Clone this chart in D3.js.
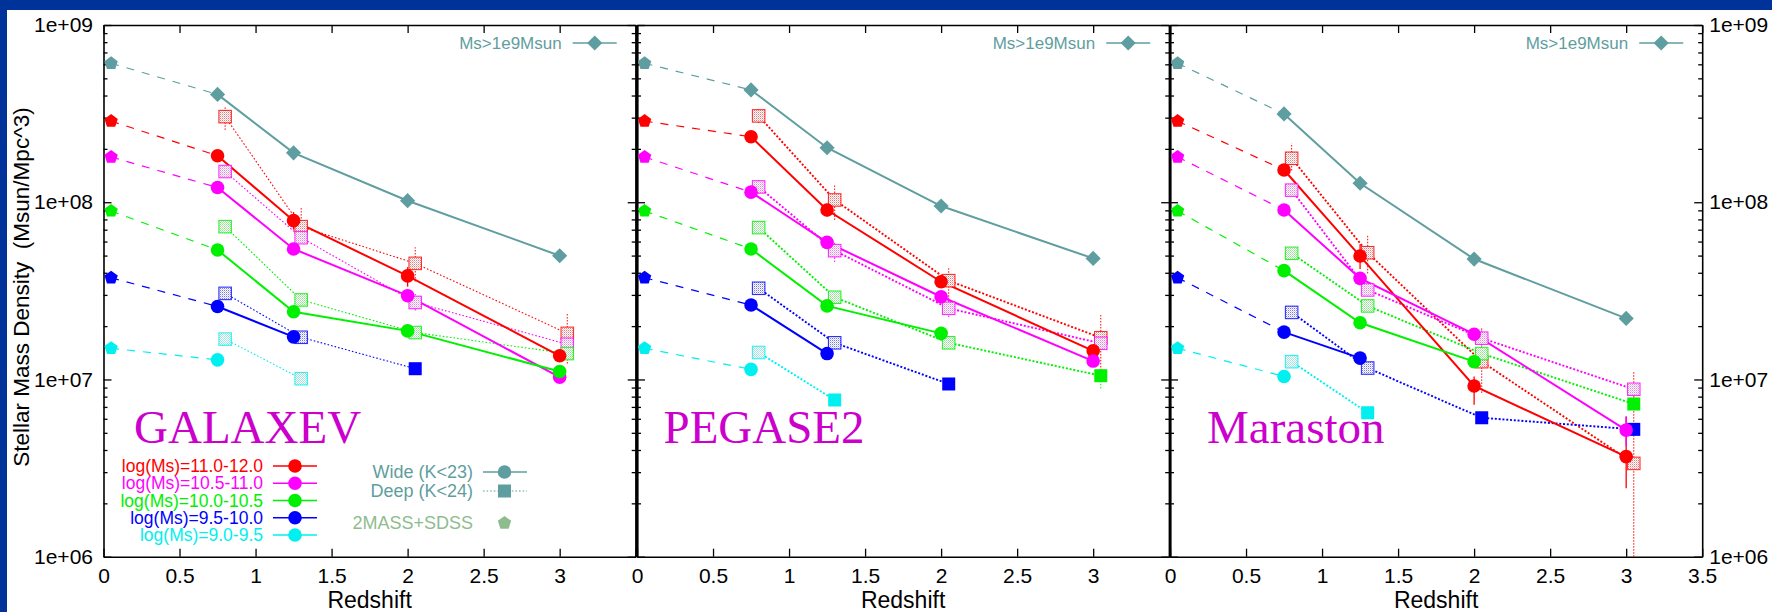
<!DOCTYPE html>
<html>
<head>
<meta charset="utf-8">
<script src="https://cdn.jsdelivr.net/npm/d3@7"></script>
<style>
  html, body { margin: 0; padding: 0; background: #fff; }
  svg { display: block; font-family: "Liberation Sans", Arial, Helvetica, sans-serif; }
  text.model-name { font-family: "Liberation Serif", "Times New Roman", serif; }
</style>
</head>
<body>
<svg id="chart" width="1772" height="612"></svg>
<script>
// ---------------- data ----------------
const modelNames = ["GALAXEV", "PEGASE2", "Maraston"];
const massBinLabels = ["log(Ms)=11.0-12.0", "log(Ms)=10.5-11.0", "log(Ms)=10.0-10.5", "log(Ms)=9.5-10.0", "log(Ms)=9.0-9.5"];
const zLocal = 0.05;
const zWide = [0.75, 1.25, 2, 3];
const zDeep = [0.8, 1.3, 2.05, 3.05];
const xTickValues = [0, 0.5, 1, 1.5, 2, 2.5, 3, 3.5];
const yMajorTicks = [1e6, 1e7, 1e8, 1e9];

// local (2MASS+SDSS) stellar mass density per mass bin, and for Ms > 1e9
const localBins = [2.87e8, 1.80e8, 8.93e7, 3.75e7, 1.50e7];
const localTotal = 6.08e8;

// GALAXEV
const galaxevTotal = [4.06e8, 1.90e8, 1.02e8, 4.99e7];
const galaxevWide = [
  [1.83e8, 7.87e7, 3.84e7, 1.36e7],
  [1.21e8, 5.45e7, 2.97e7, 1.03e7],
  [5.38e7, 2.41e7, 1.88e7, 1.11e7],
  [2.58e7, 1.74e7, null, null],
  [1.29e7, null, null, null]
];
const galaxevDeep = [
  [3.04e8, 7.28e7, 4.52e7, 1.82e7],
  [1.49e8, 6.31e7, 2.72e7, 1.58e7],
  [7.28e7, 2.81e7, 1.84e7, 1.40e7],
  [3.06e7, 1.73e7, 1.15e7, null],
  [1.69e7, 1.01e7, null, null]
];
const galaxevDeepSolid = [[3, 2]];
const galaxevWideErr = [[0, 0, 1.70e8, 1.97e8], [0, 1, 7.0e7, 8.8e7], [0, 2, 3.34e7, 4.3e7]];
const galaxevDeepErr = [[0, 0, 2.56e8, 3.46e8], [0, 1, 6.40e7, 9.35e7], [0, 2, 3.57e7, 5.57e7], [0, 3, 1.23e7, 2.36e7], [1, 2, 2.45e7, 3.05e7]];

// PEGASE2
const pegase2Total = [4.30e8, 2.03e8, 9.52e7, 4.82e7];
const pegase2Wide = [
  [2.34e8, 9.04e7, 3.56e7, 1.45e7],
  [1.14e8, 5.94e7, 2.93e7, 1.27e7],
  [5.45e7, 2.60e7, 1.82e7, null],
  [2.63e7, 1.40e7, null, null],
  [1.14e7, null, null, null]
];
const pegase2Deep = [
  [3.07e8, 1.03e8, 3.61e7, 1.72e7],
  [1.22e8, 5.33e7, 2.52e7, 1.60e7],
  [7.19e7, 2.91e7, 1.61e7, 1.05e7],
  [3.27e7, 1.61e7, 9.43e6, null],
  [1.42e7, 7.66e6, null, null]
];
const pegase2DeepSolid = [[4, 1], [3, 2], [2, 3]];
const pegase2WideErr = [[0, 1, 8.3e7, 9.8e7]];
const pegase2DeepErr = [[0, 0, 2.8e8, 3.4e8], [0, 1, 7.94e7, 1.25e8], [0, 2, 2.93e7, 4.33e7], [0, 3, 1.04e7, 2.31e7],
  [1, 0, 1.12e8, 1.36e8], [1, 1, 4.6e7, 5.9e7], [1, 2, 2.25e7, 2.93e7], [2, 3, 8.9e6, 1.17e7]];

// Maraston
const marastonTotal = [3.15e8, 1.28e8, 4.78e7, 2.21e7];
const marastonWide = [
  [1.52e8, 4.97e7, 9.19e6, 3.67e6],
  [9.04e7, 3.72e7, 1.80e7, 5.18e6],
  [4.11e7, 2.09e7, 1.26e7, null],
  [1.85e7, 1.32e7, null, null],
  [1.04e7, null, null, null]
];
const marastonDeep = [
  [1.77e8, 5.19e7, 1.26e7, 3.36e6],
  [1.17e8, 3.20e7, 1.71e7, 8.80e6],
  [5.15e7, 2.60e7, 1.40e7, 7.27e6],
  [2.39e7, 1.16e7, 6.08e6, 5.23e6],
  [1.26e7, 6.49e6, null, null]
];
const marastonDeepSolid = [[4, 1], [3, 2], [3, 3], [2, 3]];
const marastonWideErr = [[0, 1, 4.2e7, 5.8e7], [0, 2, 7.2e6, 1.04e7], [0, 3, 2.43e6, 6.17e6], [1, 3, 4.2e6, 6.2e6]];
const marastonDeepErr = [[0, 0, 1.51e8, 2.15e8], [0, 1, 3.97e7, 6.5e7], [0, 2, 8.4e6, 1.95e7], [0, 3, 1e6, 1.11e7],
  [1, 2, 1.55e7, 1.9e7], [2, 3, 6.7e6, 7.9e6]];

// ---------------- styling ----------------
const binColors = ["#ff0000", "#ff00ff", "#00f000", "#0000ff", "#00f0f0"];
const totalColor = "#5f9ea0";
const localLegendColor = "#8fbc8f";
const nameColor = "#cc00cc";

const panels = [
  { name: modelNames[0], total: galaxevTotal, wide: galaxevWide, deep: galaxevDeep, solid: galaxevDeepSolid, wideErr: galaxevWideErr, deepErr: galaxevDeepErr },
  { name: modelNames[1], total: pegase2Total, wide: pegase2Wide, deep: pegase2Deep, solid: pegase2DeepSolid, wideErr: pegase2WideErr, deepErr: pegase2DeepErr },
  { name: modelNames[2], total: marastonTotal, wide: marastonWide, deep: marastonDeep, solid: marastonDeepSolid, wideErr: marastonWideErr, deepErr: marastonDeepErr }
];

const panelLeft = [103.5, 637, 1170];
const panelWidth = 532.2;
const nameOffset = [30.5, 26.5, 37];
const plotTop = 25, plotBottom = 556.7;

const svg = d3.select("#chart");

// slide frame
svg.append("rect").attr("width", 1772).attr("height", 612).attr("fill", "#003399");
svg.append("rect").attr("x", 7).attr("y", 10).attr("width", 1765).attr("height", 602).attr("fill", "#ffffff");

const defs = svg.append("defs");
binColors.forEach((c, i) => {
  const p = defs.append("pattern").attr("id", "dots" + i)
    .attr("patternUnits", "userSpaceOnUse").attr("width", 2).attr("height", 2);
  p.append("rect").attr("width", 2).attr("height", 2).attr("fill", "#ffffff");
  p.append("rect").attr("x", 0).attr("y", 0).attr("width", 1).attr("height", 1).attr("fill", c).attr("opacity", 0.55);
  p.append("rect").attr("x", 1).attr("y", 1).attr("width", 1).attr("height", 1).attr("fill", "#777").attr("opacity", 0.35);
});

const y = d3.scaleLog().domain([1e6, 1e9]).range([plotBottom, plotTop]);
const yMinorTicks = [];
[1e6, 1e7, 1e8].forEach(d => { for (let k = 2; k <= 9; k++) yMinorTicks.push(d * k); });

const expFormat = d => "1e+" + String(Math.round(Math.log10(d))).padStart(2, "0");
const zFormat = d3.format("~g");

function pentagon(r) {
  const pts = d3.range(5).map(k => {
    const a = -Math.PI / 2 + k * 2 * Math.PI / 5;
    return [r * Math.cos(a), r * Math.sin(a)];
  });
  return "M" + pts.map(p => p.join(",")).join("L") + "Z";
}
function diamond(h) { return `M0,${-h}L${h},0L0,${h}L${-h},0Z`; }

panels.forEach((P, pi) => {
  const L = panelLeft[pi], R = L + panelWidth;
  const x = d3.scaleLinear().domain([0, 3.5]).range([L, R]);
  const g = svg.append("g");
  const lastPanel = pi === panels.length - 1;
  const deepWidth = pi === 0 ? 1.1 : 1.9;
  const deepDash = pi === 0 ? "1.6,2" : "2,1.8";

  // ---- axes ----
  const styleAxis = (sel, w) => {
    sel.attr("font-family", null);
    sel.select(".domain").attr("stroke", "#000").attr("stroke-width", w);
    sel.selectAll(".tick line").attr("stroke", "#000").attr("stroke-width", 1.3);
    sel.selectAll("text").attr("font-size", 21).attr("fill", "#000");
  };
  g.append("g").attr("transform", `translate(0,${plotBottom})`)
    .call(d3.axisBottom(x).tickValues(xTickValues).tickSize(-8).tickSizeOuter(0).tickPadding(11)
      .tickFormat(d => (!lastPanel && d === 3.5) ? "" : zFormat(d)))
    .call(s => styleAxis(s, 1.6));
  g.append("g").attr("transform", `translate(0,${plotTop})`)
    .call(d3.axisTop(x).tickValues(xTickValues).tickSize(-8).tickSizeOuter(0).tickFormat(""))
    .call(s => styleAxis(s, 1.6));
  g.append("g").attr("transform", `translate(${L},0)`)
    .call(d3.axisLeft(y).tickValues(yMajorTicks).tickSize(-8).tickSizeOuter(0).tickPadding(10.5)
      .tickFormat(pi === 0 ? expFormat : ""))
    .call(s => styleAxis(s, pi === 0 ? 1.6 : 2.2));
  g.append("g").attr("transform", `translate(${L},0)`)
    .call(d3.axisLeft(y).tickValues(yMinorTicks).tickSize(-4).tickSizeOuter(0).tickFormat(""))
    .call(s => { styleAxis(s, 0); s.select(".domain").remove(); });
  g.append("g").attr("transform", `translate(${R},0)`)
    .call(d3.axisRight(y).tickValues(yMajorTicks).tickSize(-8).tickSizeOuter(0).tickPadding(7)
      .tickFormat(lastPanel ? expFormat : ""))
    .call(s => styleAxis(s, lastPanel ? 1.6 : 2.2));
  g.append("g").attr("transform", `translate(${R},0)`)
    .call(d3.axisRight(y).tickValues(yMinorTicks).tickSize(-4).tickSizeOuter(0).tickFormat(""))
    .call(s => { styleAxis(s, 0); s.select(".domain").remove(); });

  // x axis title
  g.append("text").attr("x", (L + R) / 2).attr("y", 608).attr("text-anchor", "middle")
    .attr("font-size", 23).attr("fill", "#000").text("Redshift");

  // model name
  g.append("text").attr("class", "model-name").attr("x", L + nameOffset[pi]).attr("y", 443)
    .attr("font-size", 47).attr("fill", nameColor).text(P.name);

  const lineGen = d3.line().defined(d => d.v != null).x(d => x(d.z)).y(d => y(d.v));

  // ---- local -> first high-z bin (dashed) ----
  const dashed = g.append("g").attr("fill", "none").attr("stroke-width", 1.2).attr("stroke-dasharray", "8,8");
  dashed.append("path").attr("stroke", totalColor)
    .attr("d", lineGen([{ z: zLocal, v: localTotal }, { z: zWide[0], v: P.total[0] }]));
  P.wide.forEach((row, b) => {
    dashed.append("path").attr("stroke", binColors[b])
      .attr("d", lineGen([{ z: zLocal, v: localBins[b] }, { z: zWide[0], v: row[0] }]));
  });

  // ---- deep (dotted) ----
  P.deep.forEach((row, b) => {
    const pts = row.map((v, i) => ({ z: zDeep[i], v })).filter(d => d.v != null);
    g.append("path").attr("fill", "none").attr("stroke", binColors[b])
      .attr("stroke-width", deepWidth).attr("stroke-dasharray", deepDash)
      .attr("d", lineGen(pts));
  });
  P.deepErr.forEach(([b, i, lo, hi]) => {
    g.append("line").attr("x1", x(zDeep[i])).attr("x2", x(zDeep[i]))
      .attr("y1", y(lo)).attr("y2", y(hi)).attr("stroke", binColors[b])
      .attr("stroke-width", 1).attr("stroke-dasharray", "1.5,1.5");
  });

  // ---- wide (solid) ----
  P.wide.forEach((row, b) => {
    const pts = row.map((v, i) => ({ z: zWide[i], v })).filter(d => d.v != null);
    g.append("path").attr("fill", "none").attr("stroke", binColors[b]).attr("stroke-width", 2)
      .attr("d", lineGen(pts));
  });
  P.wideErr.forEach(([b, i, lo, hi]) => {
    g.append("line").attr("x1", x(zWide[i])).attr("x2", x(zWide[i]))
      .attr("y1", y(lo)).attr("y2", y(hi)).attr("stroke", binColors[b]).attr("stroke-width", 1.3);
  });

  // total above 1e9 Msun
  g.append("path").attr("fill", "none").attr("stroke", totalColor).attr("stroke-width", 2)
    .attr("d", lineGen(P.total.map((v, i) => ({ z: zWide[i], v }))));

  // ---- markers ----
  const solidSet = new Set(P.solid.map(([b, i]) => b + "_" + i));
  P.deep.forEach((row, b) => {
    row.forEach((v, i) => {
      if (v == null) return;
      const solid = solidSet.has(b + "_" + i);
      const s = solid ? 13 : 12.5;
      g.append("rect").attr("x", x(zDeep[i]) - s / 2).attr("y", y(v) - s / 2)
        .attr("width", s).attr("height", s)
        .attr("fill", solid ? binColors[b] : `url(#dots${b})`)
        .attr("stroke", binColors[b]).attr("stroke-width", solid ? 0 : 1.1)
        .attr("stroke-opacity", 0.8);
    });
  });
  P.wide.forEach((row, b) => {
    row.forEach((v, i) => {
      if (v == null) return;
      g.append("circle").attr("cx", x(zWide[i])).attr("cy", y(v)).attr("r", 6.8).attr("fill", binColors[b]);
    });
  });
  P.total.forEach((v, i) => {
    g.append("path").attr("transform", `translate(${x(zWide[i])},${y(v)})`)
      .attr("d", diamond(7.6)).attr("fill", totalColor);
  });
  localBins.forEach((v, b) => {
    g.append("path").attr("transform", `translate(${x(zLocal)},${y(v)})`)
      .attr("d", pentagon(7)).attr("fill", binColors[b]);
  });
  g.append("path").attr("transform", `translate(${x(zLocal)},${y(localTotal)})`)
    .attr("d", pentagon(7)).attr("fill", totalColor);

  // ---- key: Ms > 1e9 ----
  const ky = 43;
  g.append("text").attr("x", R - 74).attr("y", ky).attr("dy", "0.35em").attr("text-anchor", "end")
    .attr("font-size", 17).attr("fill", totalColor).text("Ms>1e9Msun");
  g.append("line").attr("x1", R - 63).attr("x2", R - 19).attr("y1", ky).attr("y2", ky)
    .attr("stroke", totalColor).attr("stroke-width", 1.6);
  g.append("path").attr("transform", `translate(${R - 41},${ky})`).attr("d", diamond(7.6)).attr("fill", totalColor);

  // ---- full key in the first panel ----
  if (pi === 0) {
    const kg = g.append("g");
    const rowY = [466, 483.3, 500.5, 517.7, 535];
    massBinLabels.forEach((lab, b) => {
      kg.append("text").attr("x", L + 159.5).attr("y", rowY[b]).attr("dy", "0.35em")
        .attr("text-anchor", "end").attr("font-size", 17.5).attr("fill", binColors[b]).text(lab);
      kg.append("line").attr("x1", L + 169.5).attr("x2", L + 213.5).attr("y1", rowY[b]).attr("y2", rowY[b])
        .attr("stroke", binColors[b]).attr("stroke-width", 1.6);
      kg.append("circle").attr("cx", L + 191.5).attr("cy", rowY[b]).attr("r", 6.8).attr("fill", binColors[b]);
    });
    const sx = L + 369.5;
    kg.append("text").attr("x", sx).attr("y", 472).attr("dy", "0.35em").attr("text-anchor", "end")
      .attr("font-size", 18).attr("fill", totalColor).text("Wide (K<23)");
    kg.append("line").attr("x1", sx + 10).attr("x2", sx + 54).attr("y1", 472).attr("y2", 472)
      .attr("stroke", totalColor).attr("stroke-width", 1.6);
    kg.append("circle").attr("cx", sx + 31.5).attr("cy", 472).attr("r", 6.8).attr("fill", totalColor);
    kg.append("text").attr("x", sx).attr("y", 491).attr("dy", "0.35em").attr("text-anchor", "end")
      .attr("font-size", 18).attr("fill", totalColor).text("Deep (K<24)");
    kg.append("line").attr("x1", sx + 10).attr("x2", sx + 54).attr("y1", 491).attr("y2", 491)
      .attr("stroke", totalColor).attr("stroke-width", 1.1).attr("stroke-dasharray", "1.6,2");
    kg.append("rect").attr("x", sx + 31.5 - 6.5).attr("y", 491 - 6.5).attr("width", 13).attr("height", 13)
      .attr("fill", totalColor);
    kg.append("text").attr("x", sx).attr("y", 523).attr("dy", "0.35em").attr("text-anchor", "end")
      .attr("font-size", 18).attr("fill", localLegendColor).text("2MASS+SDSS");
    kg.append("path").attr("transform", `translate(${sx + 31.5},523)`).attr("d", pentagon(7)).attr("fill", localLegendColor);
  }
});

// y axis title
svg.append("text").attr("transform", "translate(29,287) rotate(-90)").attr("text-anchor", "middle")
  .attr("font-size", 22.5).attr("fill", "#000").attr("xml:space", "preserve")
  .text("Stellar Mass Density  (Msun/Mpc^3)");
</script>
</body>
</html>
